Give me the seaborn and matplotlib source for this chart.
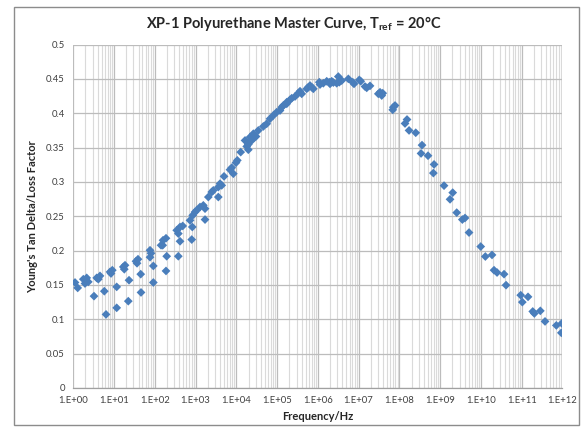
import numpy as np
import pandas as pd
import matplotlib
matplotlib.use("Agg")
import matplotlib.pyplot as plt
from matplotlib.ticker import LogLocator, FixedLocator, NullFormatter
from matplotlib.patches import Rectangle
import seaborn as sns

# log10(frequency / Hz) of each measured point
log_freq = [
    0.044, 0.110, 0.248, 0.331, 0.370, 0.289, 0.510, 0.576, 0.657, 0.616,
    0.763, 0.805, 0.903, 0.959, 0.927, 1.067, 1.067, 1.229, 1.271, 1.253,
    1.369, 1.351, 1.540, 1.589, 1.565, 1.656, 1.663, 1.884, 1.908, 1.884,
    1.965, 1.965, 2.154, 2.203, 2.276, 2.195, 2.293, 2.276, 2.539, 2.620,
    2.686, 2.578, 2.620, 2.578, 2.907, 2.865, 2.931, 2.988, 3.029, 2.921,
    3.110, 3.191, 3.233, 3.233, 3.314, 3.397, 3.436, 3.559, 3.601, 3.559,
    3.642, 3.699, 3.846, 3.888, 3.927, 3.993, 4.025, 4.108, 4.214, 4.256,
    4.295, 4.336, 4.378, 4.418, 4.435, 4.484, 4.540, 4.295, 4.663, 4.746,
    4.827, 4.908, 4.991, 5.072, 5.114, 5.153, 5.237, 5.237, 5.318, 5.359,
    5.440, 5.521, 5.563, 5.605, 5.727, 5.767, 5.808, 5.850, 5.889, 6.036,
    6.053, 6.134, 6.218, 6.282, 6.340, 6.299, 6.380, 6.502, 6.527, 6.586,
    6.463, 6.748, 6.856, 6.887, 7.017, 7.052, 7.157, 7.199, 7.280, 7.483,
    7.525, 7.567, 7.591, 7.851, 7.893, 7.837, 8.187, 8.138, 8.237, 8.401,
    8.555, 8.531, 8.702, 8.850, 8.833, 9.095, 9.308, 9.242, 9.406, 9.544,
    9.610, 9.708, 9.995, 10.108, 10.272, 10.321, 10.395, 10.567, 10.616, 10.976,
    11.015, 11.155, 11.271, 11.310, 11.457, 11.572, 11.849, 11.982, 11.972,
]

# Young's tan delta / loss factor
tan_delta = [
    0.1535, 0.1456, 0.1583, 0.1602, 0.1544, 0.1520, 0.1336, 0.1602, 0.1631, 0.1583,
    0.1408, 0.1070, 0.1689, 0.1714, 0.1666, 0.1471, 0.1166, 0.1762, 0.1786, 0.1728,
    0.1568, 0.1263, 0.1844, 0.1874, 0.1815, 0.1656, 0.1390, 0.2004, 0.1960, 0.1903,
    0.1776, 0.1535, 0.2077, 0.2150, 0.2179, 0.2077, 0.1917, 0.1703, 0.2295, 0.2343,
    0.2358, 0.2247, 0.2135, 0.1917, 0.2160, 0.2440, 0.2513, 0.2561, 0.2586, 0.2343,
    0.2634, 0.2658, 0.2610, 0.2451, 0.2779, 0.2852, 0.2876, 0.2779, 0.2974, 0.2924,
    0.2949, 0.3080, 0.3177, 0.3206, 0.3119, 0.3279, 0.3313, 0.3433, 0.3603, 0.3516,
    0.3545, 0.3651, 0.3603, 0.3701, 0.3642, 0.3661, 0.3749, 0.3468, 0.3807, 0.3846,
    0.3919, 0.3967, 0.4015, 0.4039, 0.4087, 0.4112, 0.4160, 0.4137, 0.4195, 0.4218,
    0.4243, 0.4291, 0.4320, 0.4282, 0.4355, 0.4378, 0.4403, 0.4378, 0.4355, 0.4451,
    0.4417, 0.4436, 0.4465, 0.4451, 0.4465, 0.4427, 0.4446, 0.4533, 0.4451, 0.4475,
    0.4436, 0.4500, 0.4451, 0.4427, 0.4485, 0.4465, 0.4388, 0.4369, 0.4398, 0.4282,
    0.4305, 0.4257, 0.4291, 0.4087, 0.4112, 0.4049, 0.3908, 0.3850, 0.3749, 0.3715,
    0.3535, 0.3414, 0.3381, 0.3254, 0.3128, 0.2945, 0.2843, 0.2746, 0.2552, 0.2451,
    0.2474, 0.2262, 0.2058, 0.1913, 0.1936, 0.1714, 0.1680, 0.1656, 0.1496, 0.1350,
    0.1249, 0.1326, 0.1113, 0.1084, 0.1122, 0.0968, 0.0910, 0.0939, 0.0802,
]

x_tick_exps = list(range(0, 13))
x_tick_labels = ["1.E+%02d" % e for e in x_tick_exps]
y_ticks = [0, 0.05, 0.1, 0.15, 0.2, 0.25, 0.3, 0.35, 0.4, 0.45, 0.5]
y_tick_labels = ["0", "0.05", "0.1", "0.15", "0.2", "0.25", "0.3", "0.35", "0.4", "0.45", "0.5"]

df = pd.DataFrame({"freq": np.power(10.0, log_freq), "tan_delta": tan_delta})

sns.set_theme(style="white")
plt.rcParams["font.family"] = ["Lato", "DejaVu Sans"]

fig = plt.figure(figsize=(5.88, 4.30), dpi=100)
ax = fig.add_axes([0.1245, 0.0979, 0.8321, 0.7986])

ax.set_xscale("log")
ax.set_xlim(1, 1e12)
ax.set_ylim(0, 0.5)

# gridlines
ax.xaxis.set_major_locator(FixedLocator([10.0 ** e for e in x_tick_exps]))
ax.xaxis.set_minor_locator(LogLocator(base=10, subs=np.arange(2, 10), numticks=200))
ax.xaxis.set_minor_formatter(NullFormatter())
ax.set_xticklabels(x_tick_labels)
ax.set_yticks(y_ticks)
ax.set_yticklabels(y_tick_labels)
ax.grid(True, which="major", axis="both", color="#bcbcbc", linewidth=0.9)
ax.grid(True, which="minor", axis="x", color="#dadada", linewidth=0.8)
ax.set_axisbelow(True)

sns.scatterplot(data=df, x="freq", y="tan_delta", ax=ax, marker="D", s=20,
                color="#4a7ebb", edgecolor="none", linewidth=0, zorder=3)

ax.tick_params(axis="both", which="both", length=0, labelsize=6.8, colors="#404040", pad=6)
for sp in ["top", "right"]:
    ax.spines[sp].set_visible(False)
ax.spines["left"].set_visible(False)
ax.spines["bottom"].set_color("#a0a0a0")
ax.spines["bottom"].set_linewidth(0.9)

ax.set_xlabel("Frequency/Hz", fontsize=8, fontweight="bold", color="#262626", labelpad=4)
ax.set_ylabel("Young's Tan Delta/Loss Factor", fontsize=8, fontweight="bold", color="#262626", labelpad=6)

fig.text(0.5, 0.946, r"XP-1 Polyurethane Master Curve, T$_{\mathregular{ref}}$ = 20°C",
         ha="center", va="center", fontsize=10.5, fontweight="bold", color="#262626")

# chart-area border
fig.patches.append(Rectangle((14 / 588, 1 - 425 / 430), (579 - 14) / 588, (425 - 7) / 430,
                             transform=fig.transFigure, fill=False, edgecolor="#8c8c8c",
                             linewidth=1.0))

fig.savefig("out.png", dpi=100, facecolor="white")
